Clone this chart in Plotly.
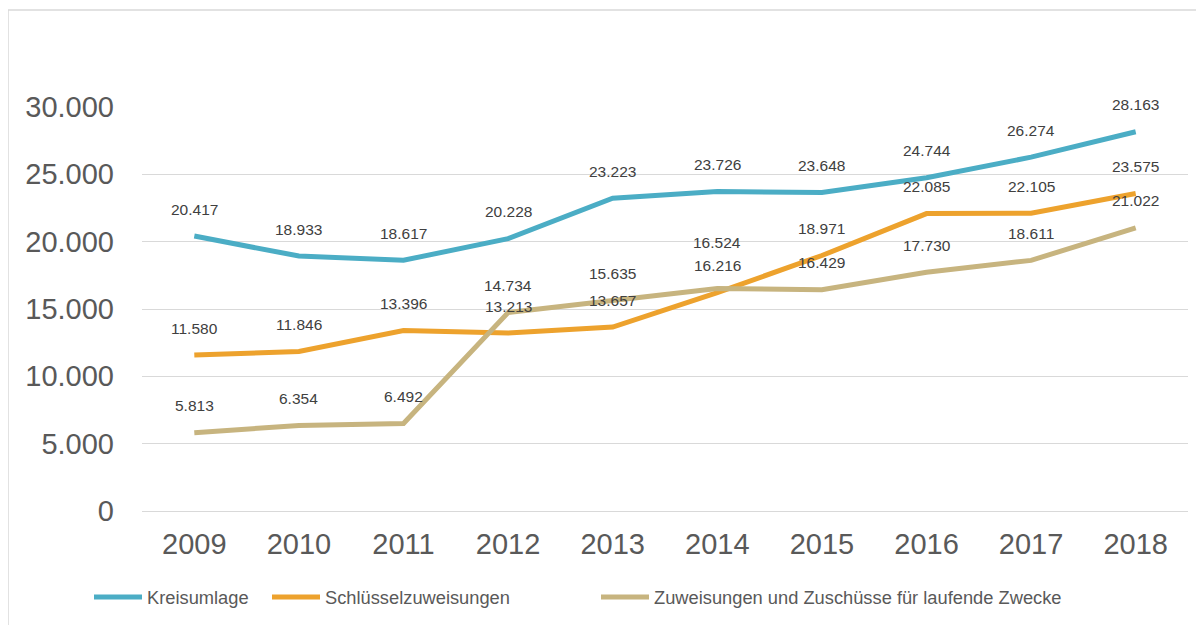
import plotly.graph_objects as go

years = ["2009", "2010", "2011", "2012", "2013", "2014", "2015", "2016", "2017", "2018"]
kreisumlage = [20417, 18933, 18617, 20228, 23223, 23726, 23648, 24744, 26274, 28163]
schluessel = [11580, 11846, 13396, 13213, 13657, 16216, 18971, 22085, 22105, 23575]
zuweisungen = [5813, 6354, 6492, 14734, 15635, 16524, 16429, 17730, 18611, 21022]

series = [
    ("Kreisumlage", kreisumlage, "#4BADC5"),
    ("Schlüsselzuweisungen", schluessel, "#EDA22D"),
    ("Zuweisungen und Zuschüsse für laufende Zwecke", zuweisungen, "#C7B47F"),
]

OFF = 8  # page body margin
W, H = 1204, 625
L, R, T, B = 142 - OFF, 1188 - OFF, 107 - OFF, 511 - OFF

# extra label lift (px) where the reference moved a label to avoid overlap
label_lift = {(2, 5): 19}

def px_to_paper_x(px):
    return (px - OFF - L) / (R - L)

def px_to_paper_y(py):
    return (B - (py - OFF)) / (B - T)

legend_starts = [95, 273, 602]
legend_names = ["legend", "legend2", "legend3"]

fig = go.Figure()
annotations = []
for k, (name, vals, col) in enumerate(series):
    fig.add_trace(go.Scatter(x=years, y=vals, mode="lines", name=name,
                             line=dict(color=col, width=5), legend=legend_names[k]))
    for i, v in enumerate(vals):
        annotations.append(dict(x=i, y=v, xref="x", yref="y",
                                text=f"{v:,}".replace(",", "."),
                                showarrow=False, yshift=27 + label_lift.get((k, i), 0),
                                yanchor="middle",
                                font=dict(family="Liberation Sans, Arial", size=15.5, color="#404040")))

legend_common = dict(orientation="h", xanchor="left", yanchor="middle",
                     y=px_to_paper_y(597), font=dict(size=18.3, color="#595959"),
                     itemwidth=48, bgcolor="rgba(0,0,0,0)")
layout_legends = {}
for k, ln in enumerate(legend_names):
    layout_legends[ln] = dict(legend_common, x=px_to_paper_x(legend_starts[k] - 6))

fig.update_layout(
    width=W, height=H,
    margin=dict(l=L, r=W - R, t=T, b=H - B),
    paper_bgcolor="white", plot_bgcolor="white",
    font=dict(family="Liberation Sans, Arial", color="#595959"),
    showlegend=True,
    annotations=annotations,
    shapes=[dict(type="rect", xref="paper", yref="paper",
                 x0=px_to_paper_x(8), x1=px_to_paper_x(1220),
                 y0=px_to_paper_y(640), y1=px_to_paper_y(10),
                 line=dict(color="#D9D9D9", width=1.5), layer="below")],
    **layout_legends,
)
fig.update_xaxes(type="category", range=[-0.5, len(years) - 0.5], showgrid=False,
                 showline=False, ticks="",
                 tickfont=dict(size=29, color="#595959"), ticklabelstandoff=13)
fig.update_yaxes(range=[0, 30000], tickvals=[0, 5000, 10000, 15000, 20000, 25000, 30000],
                 ticktext=["0", "5.000", "10.000", "15.000", "20.000", "25.000", "30.000"],
                 showgrid=True, gridcolor="#D9D9D9", gridwidth=1, zeroline=True,
                 zerolinecolor="#D9D9D9", zerolinewidth=1, showline=False, ticks="",
                 tickfont=dict(size=29, color="#595959"), ticklabelstandoff=27)

fig.write_html("out.html")
